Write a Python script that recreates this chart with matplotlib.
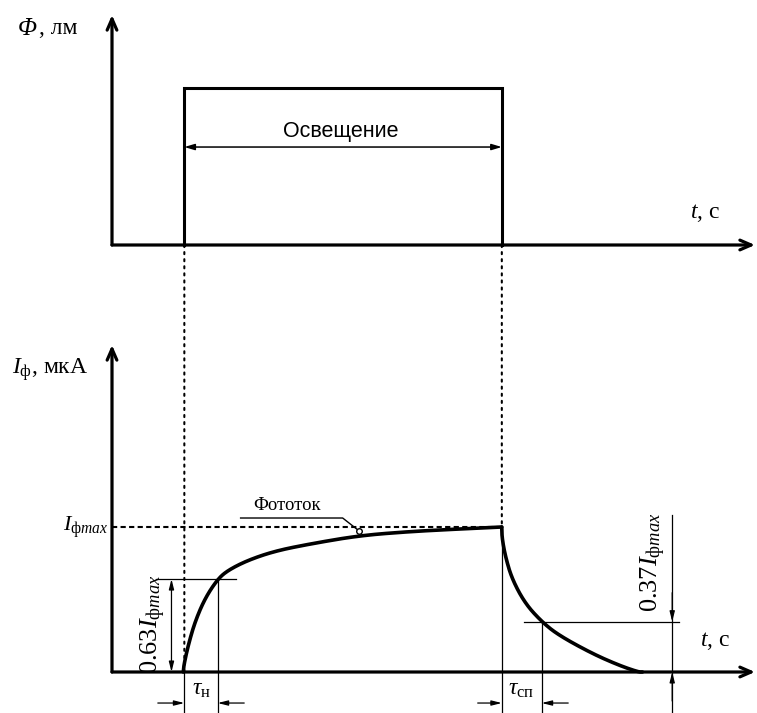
import numpy as np
import matplotlib
matplotlib.use("Agg")
import matplotlib.pyplot as plt
from matplotlib.patches import ConnectionPatch

plt.rcParams['font.family'] = ['Liberation Serif', 'DejaVu Serif']
plt.rcParams['mathtext.fontset'] = 'custom'
plt.rcParams['mathtext.rm'] = 'Liberation Serif'
plt.rcParams['mathtext.it'] = 'Liberation Serif:italic'
plt.rcParams['mathtext.bf'] = 'Liberation Serif:bold'

# ---------------- data (schematic units) ----------------
t_on = 0.90          # start of illumination
t_off = 4.85         # end of illumination
flux_level = 1.0     # relative luminous flux
I_max = 1.0          # relative photocurrent maximum
level_rise = 0.641   # 0.63 Imax level as drawn
level_fall = 0.347   # 0.37 Imax level as drawn
t_tau_rise = 1.315   # time where current reaches 0.63 Imax
t_tau_fall = 5.346   # time where current falls to 0.37 Imax

rise_t = [0.887, 0.895, 0.949, 1.033, 1.157, 1.315, 1.447, 1.696, 2.028, 2.442,
          3.064, 3.686, 4.309, 4.849]
rise_I = [0.0, 0.05, 0.186, 0.347, 0.508, 0.641, 0.703, 0.772, 0.834, 0.881,
          0.940, 0.968, 0.986, 1.0]
fall_t = [4.849, 4.852, 4.890, 4.973, 5.138, 5.346, 5.553, 5.968, 6.299, 6.548, 6.60]
fall_I = [1.0, 0.93, 0.807, 0.646, 0.474, 0.347, 0.255, 0.129, 0.048, 0.0, 0.0]

W, H = 757, 713
fig = plt.figure(figsize=(W / 100, H / 100), dpi=100)


def box(l, b, r, t):
    return [l / W, (H - b) / H, (r - l) / W, (b - t) / H]


def fpos(x, y):
    return x / W, 1 - y / H


ax_top = fig.add_axes(box(112, 245, 755, 15))
ax_bot = fig.add_axes(box(112, 672, 755, 345))
ax_top.set_xlim(0, 8.0)
ax_top.set_ylim(0, 230 / 157)
ax_bot.set_xlim(0, 8.0)
ax_bot.set_ylim(0, 327 / 145)
axis_arrow = dict(arrowstyle='->,head_length=0.8,head_width=0.35',
                  lw=2.3, color='black', shrinkA=0, shrinkB=0)
for ax in (ax_top, ax_bot):
    ax.axis('off')
    ax.annotate('', xy=(0, 1), xytext=(0, 0), xycoords='axes fraction',
                arrowprops=axis_arrow)
    ax.annotate('', xy=(1, 0), xytext=(0, 0), xycoords='axes fraction',
                arrowprops=axis_arrow)


def smooth(ax, xs, ys, iters=5):
    """Chaikin corner cutting in display space (drawing only)."""
    P = ax.transData.transform(np.column_stack([xs, ys]))
    for _ in range(iters):
        Q = 0.75 * P[:-1] + 0.25 * P[1:]
        R = 0.25 * P[:-1] + 0.75 * P[1:]
        mid = np.empty((2 * len(Q), 2))
        mid[0::2] = Q
        mid[1::2] = R
        P = np.vstack([P[:1], mid, P[-1:]])
    d = ax.transData.inverted().transform(P)
    return d[:, 0], d[:, 1]


# ---------------- top panel: illumination ----------------
ax_top.plot([t_on, t_on, t_off, t_off], [0, flux_level, flux_level, 0],
            color='black', lw=2.2, solid_joinstyle='miter', clip_on=False)
ax_top.annotate('', xy=(t_off, 0.624), xytext=(t_on, 0.624),
                arrowprops=dict(arrowstyle='<|-|>,head_length=0.6,head_width=0.18',
                                lw=1.1, color='black', shrinkA=0, shrinkB=0))
fig.text(*fpos(341, 131), 'Освещение', fontsize=15.5, ha='center', va='center',
         family=['Liberation Sans', 'DejaVu Sans'])

# ---------------- bottom panel: photocurrent ----------------
xr, yr = smooth(ax_bot, rise_t, rise_I)
ax_bot.plot(xr, yr, color='black', lw=2.6, clip_on=False, solid_capstyle='round')
xf, yf = smooth(ax_bot, fall_t, fall_I)
ax_bot.plot(xf, yf, color='black', lw=2.6, clip_on=False, solid_capstyle='round')

dotted = (0, (1, 2.4))
for tt, yb in ((t_on, 0.0), (t_off, I_max)):
    cp = ConnectionPatch(xyA=(tt, 0), coordsA=ax_top.transData,
                         xyB=(tt, yb), coordsB=ax_bot.transData,
                         linestyle=dotted, lw=1.5, color='black')
    fig.add_artist(cp)

ybelow = -0.283
thin = dict(color='black', lw=0.9, clip_on=False)
ax_bot.plot([t_on, t_on], [0, ybelow], **thin)
ax_bot.plot([t_off, t_off], [I_max, ybelow], **thin)
ax_bot.plot([t_tau_rise, t_tau_rise], [level_rise, ybelow], **thin)
ax_bot.plot([t_tau_fall, t_tau_fall], [level_fall, ybelow], **thin)

# Imax dashed line
ax_bot.plot([0, t_off], [I_max, I_max], color='black', lw=1.5,
            linestyle=(0, (2.5, 1.6)))
fig.text(*fpos(86, 527), r'$I_{\mathrm{ф}max}$', fontsize=16, ha='center', va='center')

# 0.63 level
ax_bot.plot([t_on - 0.35, t_tau_rise + 0.23], [level_rise, level_rise], **thin)
ax_bot.annotate('', xy=(t_on - 0.16, 0), xytext=(t_on - 0.16, level_rise),
                arrowprops=dict(arrowstyle='<|-|>,head_length=0.6,head_width=0.15',
                                lw=0.9, color='black', shrinkA=0, shrinkB=0))
fig.text(*fpos(153, 624), r'$\mathit{0.63I}_{\mathrm{ф}\mathit{max}}$', fontsize=19,
         rotation=90, ha='center', va='center')

# 0.37 level
x37 = 6.97
ax_bot.plot([t_tau_fall - 0.22, 7.06], [level_fall, level_fall], **thin)
ax_bot.plot([x37, x37], [1.08, ybelow], **thin)
ax_bot.annotate('', xy=(x37, level_fall), xytext=(x37, level_fall + 0.2),
                arrowprops=dict(arrowstyle='-|>,head_length=0.6,head_width=0.15',
                                lw=0.9, color='black', shrinkA=0, shrinkB=0))
ax_bot.annotate('', xy=(x37, 0), xytext=(x37, -0.2),
                arrowprops=dict(arrowstyle='-|>,head_length=0.6,head_width=0.15',
                                lw=0.9, color='black', shrinkA=0, shrinkB=0),
                annotation_clip=False)
fig.text(*fpos(653, 562), r'$\mathit{0.37I}_{\mathrm{ф}\mathit{max}}$', fontsize=19,
         rotation=90, ha='center', va='center')

# time-constant arrows
yarr = -0.214
small = dict(arrowstyle='-|>,head_length=0.6,head_width=0.15', lw=0.9,
             color='black', shrinkA=0, shrinkB=0)
for xs, xe in ((t_on - 0.33, t_on), (t_tau_rise + 0.33, t_tau_rise),
               (t_off - 0.3, t_off), (t_tau_fall + 0.33, t_tau_fall)):
    ax_bot.annotate('', xy=(xe, yarr), xytext=(xs, yarr), arrowprops=small,
                    annotation_clip=False)
fig.text(*fpos(201, 690), r'$\tau_{\mathrm{н}}$', fontsize=17, ha='center', va='center')
fig.text(*fpos(521, 690), r'$\tau_{\mathrm{сп}}$', fontsize=17, ha='center', va='center')

# "Фототок" label with leader
ax_bot.plot([1.60, 2.87, 3.07], [1.062, 1.062, 0.975], color='black', lw=1.0)
ax_bot.plot([3.07], [0.975], marker='o', ms=4, mfc='white', mec='black', mew=1.0)
fig.text(*fpos(287, 506), 'Фототок', fontsize=13.5, ha='center', va='center')

# axis labels
fig.text(*fpos(18, 29), 'Φ', fontsize=18, style='italic', ha='left', va='center')
fig.text(*fpos(39, 29), ', лм', fontsize=17, ha='left', va='center')
fig.text(*fpos(12, 370), r'$I_{\mathrm{ф}}$, мкА', fontsize=17, ha='left', va='center')
fig.text(*fpos(690, 213), r'$\mathit{t}$, с', fontsize=17, ha='left', va='center')
fig.text(*fpos(700, 641), r'$\mathit{t}$, с', fontsize=17, ha='left', va='center')

fig.savefig('out.png', dpi=100)
